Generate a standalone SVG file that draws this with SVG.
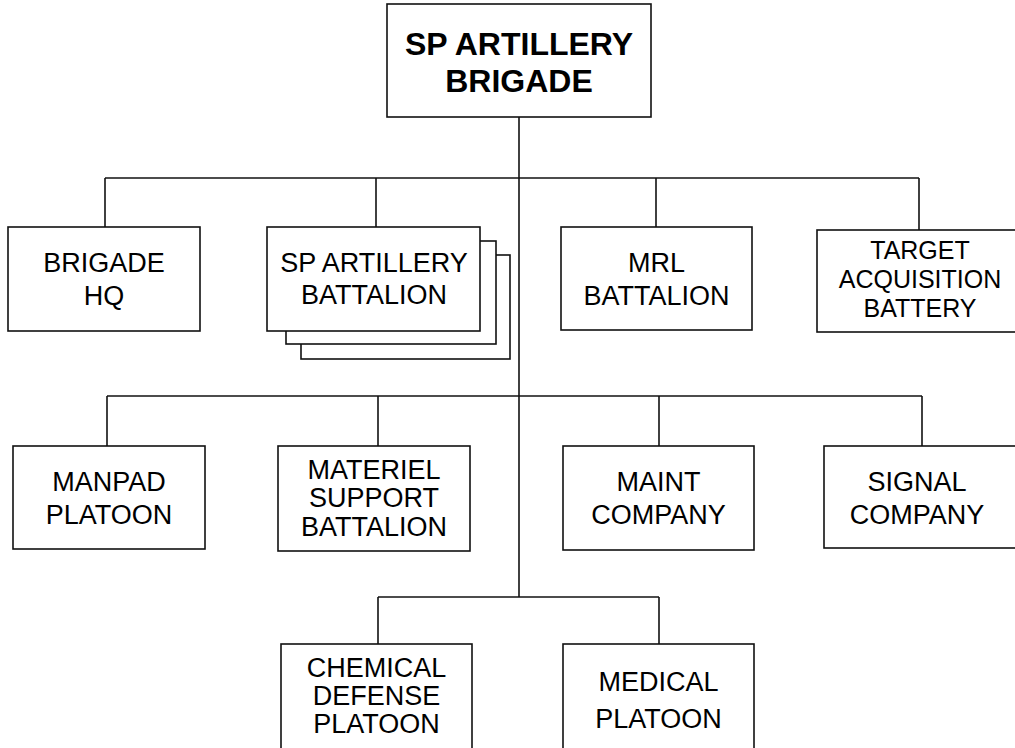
<svg xmlns="http://www.w3.org/2000/svg" width="1015" height="748" viewBox="0 0 1015 748">
<style>
.n rect{fill:#fff;stroke:#111;stroke-width:1.6}
.c line{stroke:#111;stroke-width:1.6}
text{font-family:"Liberation Sans",Arial,sans-serif;font-size:27px;fill:#000;text-anchor:middle}
.t{font-size:32px;font-weight:bold}
.s{font-size:25px}
</style>
<rect width="1015" height="748" fill="#fff"/>
<g class="c" id="connectors">
<line x1="519" y1="117" x2="519" y2="597"/>
<line x1="105" y1="178" x2="919" y2="178"/>
<line x1="105" y1="178" x2="105" y2="227"/>
<line x1="376" y1="178" x2="376" y2="227"/>
<line x1="656" y1="178" x2="656" y2="227"/>
<line x1="919" y1="178" x2="919" y2="230"/>
<line x1="107" y1="396" x2="922" y2="396"/>
<line x1="107" y1="396" x2="107" y2="446"/>
<line x1="378" y1="396" x2="378" y2="446"/>
<line x1="659" y1="396" x2="659" y2="446"/>
<line x1="922" y1="396" x2="922" y2="446"/>
<line x1="378" y1="597" x2="659" y2="597"/>
<line x1="378" y1="597" x2="378" y2="644"/>
<line x1="659" y1="597" x2="659" y2="644"/>
</g>
<g class="n" id="brigade">
<rect x="387" y="4" width="264" height="113"/>
<text class="t" x="519" y="55">SP ARTILLERY</text>
<text class="t" x="519" y="92">BRIGADE</text>
</g>
<g class="n" id="brigade-hq">
<rect x="8" y="227" width="192" height="104"/>
<text x="104" y="272">BRIGADE</text>
<text x="104" y="305">HQ</text>
</g>
<g class="n" id="sp-artillery-battalion">
<rect x="301" y="255" width="209" height="104"/>
<rect x="286" y="241" width="210" height="103"/>
<rect x="267" y="227" width="213" height="104"/>
<text x="374" y="272">SP ARTILLERY</text>
<text x="374" y="304">BATTALION</text>
</g>
<g class="n" id="mrl-battalion">
<rect x="561" y="227" width="191" height="103"/>
<text x="656.5" y="272">MRL</text>
<text x="656.5" y="305">BATTALION</text>
</g>
<g class="n" id="target-acquisition-battery">
<rect x="817" y="230" width="206" height="102"/>
<text class="s" x="920" y="259">TARGET</text>
<text class="s" x="920" y="288">ACQUISITION</text>
<text class="s" x="920" y="317">BATTERY</text>
</g>
<g class="n" id="manpad-platoon">
<rect x="13" y="446" width="192" height="103"/>
<text x="109" y="491">MANPAD</text>
<text x="109" y="524">PLATOON</text>
</g>
<g class="n" id="materiel-support-battalion">
<rect x="278" y="446" width="192" height="105"/>
<text x="374" y="479">MATERIEL</text>
<text x="374" y="507">SUPPORT</text>
<text x="374" y="536">BATTALION</text>
</g>
<g class="n" id="maint-company">
<rect x="563" y="446" width="191" height="104"/>
<text x="658.5" y="491">MAINT</text>
<text x="658.5" y="524">COMPANY</text>
</g>
<g class="n" id="signal-company">
<rect x="824" y="446" width="192" height="102"/>
<text x="917" y="491">SIGNAL</text>
<text x="917" y="524">COMPANY</text>
</g>
<g class="n" id="chemical-defense-platoon">
<rect x="281" y="644" width="191" height="110"/>
<text x="376.5" y="677">CHEMICAL</text>
<text x="376.5" y="705">DEFENSE</text>
<text x="376.5" y="733">PLATOON</text>
</g>
<g class="n" id="medical-platoon">
<rect x="563" y="644" width="191" height="110"/>
<text x="658.5" y="691">MEDICAL</text>
<text x="658.5" y="728">PLATOON</text>
</g>
</svg>
